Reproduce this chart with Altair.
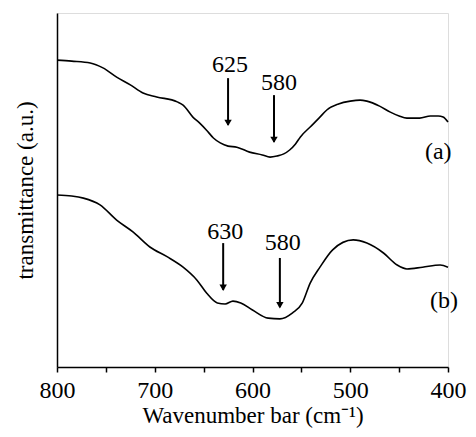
import altair as alt
import pandas as pd

# Curve (a) - upper spectrum
wn_a = [800, 785, 766, 753, 739, 725, 712, 698, 677, 671, 661, 654, 647, 640, 633, 625,
        616, 603, 590, 582, 575, 568, 562, 556, 551, 541, 532, 524, 512, 500, 490, 483,
        470, 459, 450, 442, 429, 418, 410, 405, 400]
t_a = [86.7, 86.4, 85.9, 84.5, 81.9, 79.7, 77.4, 76.3, 74.9, 74.0, 70.6, 68.9, 66.9, 64.7,
       63.3, 62.4, 62.1, 60.7, 59.9, 59.3, 59.6, 60.2, 61.3, 63.0, 65.0, 67.8, 70.3, 72.6,
       74.3, 75.1, 75.4, 75.1, 73.7, 72.0, 70.9, 70.3, 70.3, 70.9, 70.9, 70.6, 69.2]

# Curve (b) - lower spectrum
wn_b = [800, 785, 773, 756, 739, 722, 705, 687, 671, 657, 647, 636, 628, 620, 612, 600,
        584, 572, 559, 549, 541, 531, 518, 497, 483, 466, 452, 442, 426, 408, 400]
t_b = [48.6, 48.3, 47.7, 45.8, 41.5, 38.1, 33.9, 31.1, 28.2, 24.6, 20.9, 18.1, 17.8, 18.6,
       18.1, 16.1, 13.8, 13.6, 15.3, 18.1, 23.7, 28.2, 33.1, 35.9, 35.0, 32.2, 28.8, 27.7,
       28.2, 28.8, 28.2]

# Arrows (peak markers)
arrow_x = [625, 578, 630, 572]
arrow_top = [81.6, 76.8, 35.0, 30.8]
arrow_bot = [68.4, 63.6, 21.8, 16.9]

# Annotation labels
label_text = ["625", "580", "630", "580", "(a)", "(b)"]
label_x = [623, 573, 628, 569, 410, 404]
label_y = [85.3, 80.2, 38.1, 35.0, 60.7, 18.6]

tick_values = [800, 750, 700, 650, 600, 550, 500, 450, 400]

FONT = "'Liberation Serif', 'Times New Roman', Times, serif"

df_lines = pd.concat([
    pd.DataFrame({"wn": wn_a, "t": t_a, "series": "a"}),
    pd.DataFrame({"wn": wn_b, "t": t_b, "series": "b"}),
])
df_arrows = pd.DataFrame({"wn": arrow_x, "top": arrow_top, "bot": arrow_bot})
df_labels = pd.DataFrame({"wn": label_x, "t": label_y, "text": label_text})

xscale = alt.Scale(domain=[800, 400], nice=False, zero=False)
yscale = alt.Scale(domain=[0, 100], nice=False, zero=False)

xaxis = alt.Axis(
    values=tick_values,
    labelExpr="datum.value % 100 == 0 ? datum.label : ''",
    title="Wavenumber bar (cm⁻¹)",
    grid=False,
    tickSize=5,
    tickWidth=1.5,
    tickColor="black",
    labelFont=FONT,
    labelFontSize=24,
    labelColor="black",
    labelPadding=6,
    labelFlush=False,
    titleFont=FONT,
    titleFontSize=23,
    titleFontWeight="normal",
    titleColor="black",
    titlePadding=2,
    domainColor="black",
    domainWidth=1.5,
)
yaxis = alt.Axis(
    labels=False,
    ticks=False,
    grid=False,
    title="transmittance (a.u.)",
    titleFont=FONT,
    titleFontSize=23,
    titleFontWeight="normal",
    titleColor="black",
    titlePadding=20,
    domainColor="black",
    domainWidth=1.5,
)

lines = alt.Chart(df_lines).mark_line(
    color="black", strokeWidth=1.6, interpolate="monotone"
).encode(
    x=alt.X("wn:Q", scale=xscale, axis=xaxis),
    y=alt.Y("t:Q", scale=yscale, axis=yaxis),
    detail="series:N",
)

rules = alt.Chart(df_arrows).mark_rule(color="black", strokeWidth=2).encode(
    x=alt.X("wn:Q", scale=xscale),
    y=alt.Y("top:Q", scale=yscale),
    y2="bot:Q",
)

heads = alt.Chart(df_arrows).mark_point(
    shape="triangle-down", filled=True, size=55, color="black", opacity=1, yOffset=-2
).encode(
    x=alt.X("wn:Q", scale=xscale),
    y=alt.Y("bot:Q", scale=yscale),
)

labels = alt.Chart(df_labels).mark_text(
    font=FONT, fontSize=24, color="black", align="center", baseline="middle"
).encode(
    x=alt.X("wn:Q", scale=xscale),
    y=alt.Y("t:Q", scale=yscale),
    text="text:N",
)

chart = alt.layer(lines, rules, heads, labels).properties(
    width=391,
    height=354,
    autosize=alt.AutoSizeParams(type="none"),
    padding={"left": 57, "top": 13, "right": 28, "bottom": 70},
).configure_view(stroke=None).configure(background="white")

chart.save("out.html", embed_options={"renderer": "svg", "actions": False})
